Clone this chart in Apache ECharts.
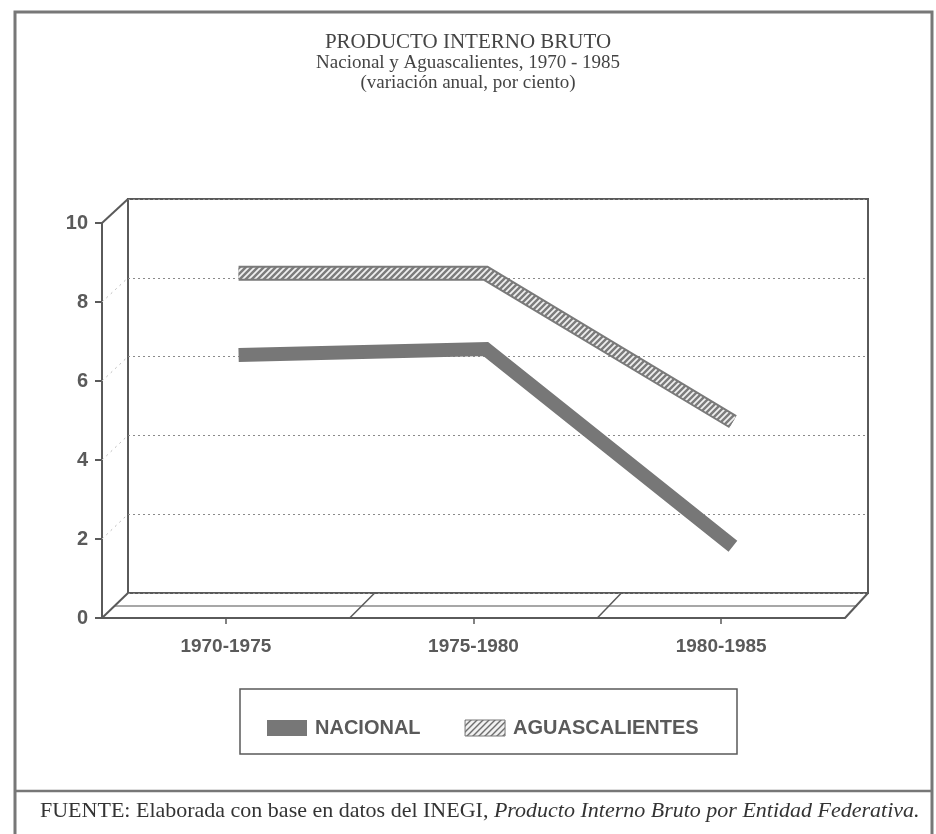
<!DOCTYPE html>
<html><head><meta charset="utf-8">
<script src="https://cdn.jsdelivr.net/npm/echarts@6/dist/echarts.min.js"></script>
<style>html,body{margin:0;padding:0;background:#fff}#c{width:936px;height:834px}</style>
</head><body><div id="c"></div>
<script>
// ---- data ----
const categories = ['1970-1975', '1975-1980', '1980-1985'];
const nacional = [6.35, 6.5, 1.5];
const aguascalientes = [8.42, 8.42, 4.66];
const yMin = 0, yMax = 10, yStep = 2;
const titleMain = 'PRODUCTO INTERNO BRUTO';
const titleSub = ['Nacional y Aguascalientes, 1970 - 1985', '(variación anual, por ciento)'];
const sourcePlain = 'FUENTE: Elaborada con base en datos del INEGI, ';
const sourceItalic = 'Producto Interno Bruto por Entidad Federativa.';
const legendNames = ['NACIONAL', 'AGUASCALIENTES'];

// ---- layout ----
const F = {l: 102, t: 223, w: 743, h: 395};   // front plane
const B = {l: 128, t: 199, w: 740, h: 394};   // back wall
const M = {l: 115, t: 211, w: 741.5, h: 394.5}; // mid plane (series)
const INK = '#5a5a5a';

function hatch(bg, fg, size, lw) {
  const c = document.createElement('canvas'); c.width = c.height = size;
  const x = c.getContext('2d');
  x.fillStyle = bg; x.fillRect(0, 0, size, size);
  x.strokeStyle = fg; x.lineWidth = lw;
  x.beginPath();
  x.moveTo(0, size); x.lineTo(size, 0);
  x.moveTo(-size / 2, size / 2); x.lineTo(size / 2, -size / 2);
  x.moveTo(size / 2, size * 1.5); x.lineTo(size * 1.5, size / 2);
  x.stroke();
  return c;
}
const ribbonPattern = {image: hatch('#7c7c7c', '#f0f0f0', 6, 1.8), repeat: 'repeat'};
const legendPattern = {image: hatch('#f2f2f2', '#6a6a6a', 6, 1.4), repeat: 'repeat'};

function gridOf(g) { return {left: g.l, top: g.t, width: g.w, height: g.h, containLabel: false}; }

const deco = [];
function seg(x1, y1, x2, y2, style) {
  deco.push({type: 'line', silent: true, z: 1, shape: {x1, y1, x2, y2},
    style: Object.assign({stroke: INK, lineWidth: 2}, style || {})});
}
// 3D box edges
seg(F.l, F.t, B.l, B.t);
seg(F.l, F.t + F.h, B.l, B.t + B.h);
seg(F.l + F.w, F.t + F.h, B.l + B.w, B.t + B.h);
for (let i = 1; i < categories.length; i++) {
  seg(F.l + i * F.w / categories.length, F.t + F.h, B.l + i * B.w / categories.length, B.t + B.h, {lineWidth: 1.5});
}
for (let v = yMin + yStep; v < yMax; v += yStep) {
  const yf = F.t + F.h * (1 - v / yMax), yb = B.t + B.h * (1 - v / yMax);
  seg(F.l, yf, B.l, yb, {stroke: '#bbbbbb', lineWidth: 1, lineDash: [2, 4]});
}
// outer frame and footer divider
deco.push({type: 'rect', silent: true, shape: {x: 15, y: 12, width: 917, height: 840},
  style: {fill: 'none', stroke: '#777', lineWidth: 3}});
deco.push({type: 'line', silent: true, shape: {x1: 15, y1: 791, x2: 932, y2: 791},
  style: {stroke: '#777', lineWidth: 2.5}});
// legend box
deco.push({type: 'rect', silent: true, shape: {x: 240, y: 689, width: 497, height: 65},
  style: {fill: 'none', stroke: INK, lineWidth: 1.5}});

const chart = echarts.init(document.getElementById('c'), null, {renderer: 'canvas'});
chart.setOption({
  animation: false,
  backgroundColor: '#fff',
  title: [{
    text: titleMain,
    subtext: titleSub.join('\n'),
    left: 'center', top: 26, itemGap: 0,
    textStyle: {fontFamily: 'Liberation Serif', fontSize: 21, lineHeight: 22, fontWeight: 'normal', color: '#444'},
    subtextStyle: {fontFamily: 'Liberation Serif', fontSize: 19, lineHeight: 20, color: '#444'}
  }, {
    text: '{a|' + sourcePlain + '}{b|' + sourceItalic + '}',
    left: 35, top: 795,
    textStyle: {fontWeight: 'normal', rich: {
      a: {fontFamily: 'Liberation Serif', fontSize: 22, fontWeight: 'normal', color: '#333'},
      b: {fontFamily: 'Liberation Serif', fontSize: 22, fontWeight: 'normal', fontStyle: 'italic', color: '#333'}
    }}
  }],
  legend: {
    left: 262, top: 713,
    itemWidth: 40, itemHeight: 16, itemGap: 44,
    textStyle: {fontFamily: 'Liberation Sans', fontWeight: 'bold', fontSize: 20, color: INK, padding: [0, 0, 0, 3]},
    data: [
      {name: legendNames[0], icon: 'rect', itemStyle: {color: '#777', borderWidth: 0}},
      {name: legendNames[1], icon: 'rect', itemStyle: {color: legendPattern, borderColor: '#777', borderWidth: 1}}
    ]
  },
  grid: [
    Object.assign(gridOf(F), {show: false}),
    Object.assign(gridOf(B), {show: true, borderColor: INK, borderWidth: 2, backgroundColor: 'transparent'}),
    Object.assign(gridOf(M), {show: false})
  ],
  xAxis: [
    {gridIndex: 0, type: 'category', data: categories, boundaryGap: true,
      axisLine: {show: true, lineStyle: {color: INK, width: 2}},
      axisTick: {show: true, alignWithLabel: true, length: 6, lineStyle: {color: INK, width: 1.5}},
      axisLabel: {margin: 19, fontFamily: 'Liberation Sans', fontWeight: 'bold', fontSize: 19, color: INK}},
    {gridIndex: 1, type: 'category', data: categories, show: false},
    {gridIndex: 2, type: 'category', data: categories, boundaryGap: true,
      axisLine: {show: true, lineStyle: {color: '#8a8a8a', width: 1.5}},
      axisTick: {show: false}, axisLabel: {show: false}}
  ],
  yAxis: [
    {gridIndex: 0, type: 'value', min: yMin, max: yMax, interval: yStep,
      axisLine: {show: true, lineStyle: {color: INK, width: 2}},
      axisTick: {show: true, length: 7, lineStyle: {color: INK, width: 2}},
      axisLabel: {margin: 14, fontFamily: 'Liberation Sans', fontWeight: 'bold', fontSize: 20, color: INK},
      splitLine: {show: false}},
    {gridIndex: 1, type: 'value', min: yMin, max: yMax, interval: yStep,
      axisLine: {show: false}, axisTick: {show: false}, axisLabel: {show: false},
      splitLine: {show: true, lineStyle: {color: '#8a8a8a', width: 1, type: [2, 3]}}},
    {gridIndex: 2, type: 'value', min: yMin, max: yMax, interval: yStep, show: false,
      splitLine: {show: false}}
  ],
  series: [
    {name: legendNames[0], type: 'line', xAxisIndex: 2, yAxisIndex: 2, data: nacional,
      symbol: 'none', z: 5, lineStyle: {color: '#777', width: 14, join: 'miter'}},
    {name: legendNames[1], type: 'line', xAxisIndex: 2, yAxisIndex: 2, data: aguascalientes,
      symbol: 'none', z: 5, lineStyle: {color: '#7a7a7a', width: 15, join: 'miter'}},
    {name: legendNames[1], type: 'line', xAxisIndex: 2, yAxisIndex: 2, data: aguascalientes,
      symbol: 'none', z: 6, lineStyle: {color: ribbonPattern, width: 11, join: 'miter'}}
  ],
  graphic: deco
});
</script>
</body></html>
